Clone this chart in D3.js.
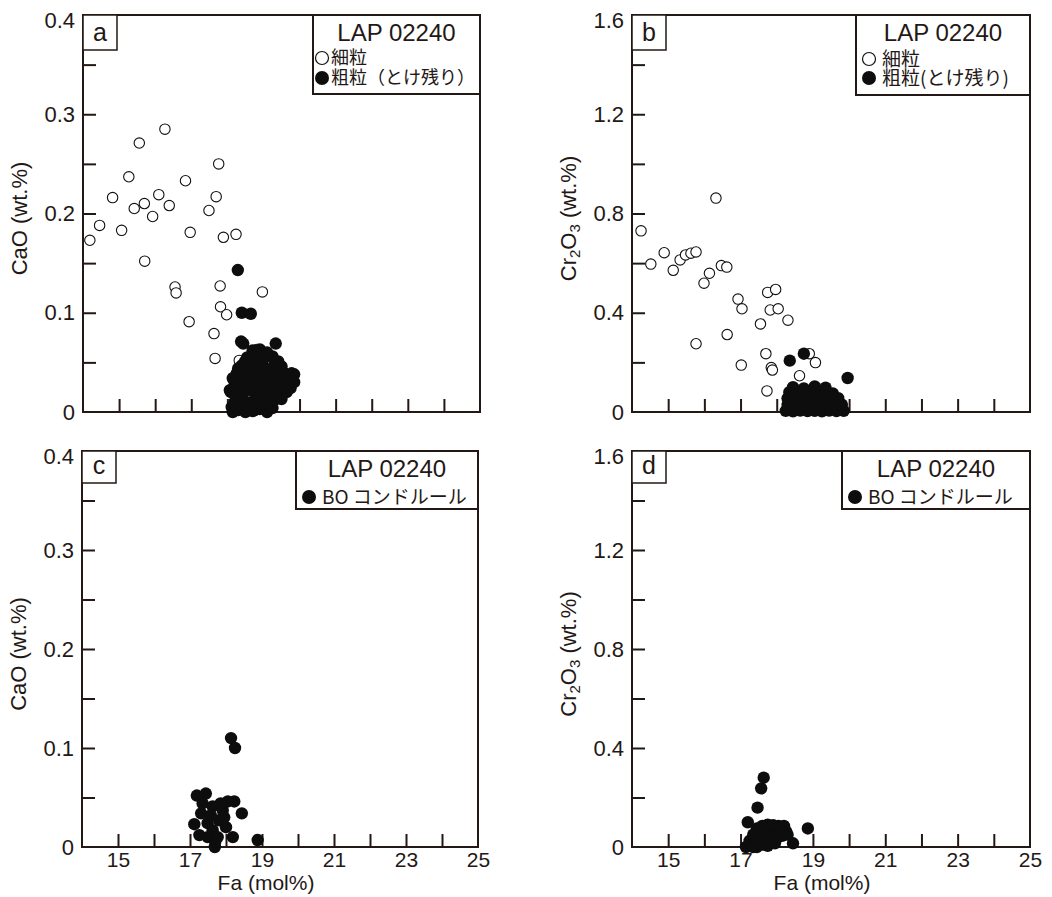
<!DOCTYPE html>
<html><head><meta charset="utf-8">
<script src="https://cdn.jsdelivr.net/npm/d3@7"></script>
<style>
html,body{margin:0;padding:0;background:#fff;}
svg{display:block;font-family:"Liberation Sans",Arial,sans-serif;}
.jp{font-family:"Noto Sans CJK JP","Liberation Sans",sans-serif;}
</style></head>
<body>
<svg id="chart" width="1052" height="897"></svg>
<script>
// ---------- data ----------
const faDomain = [14, 25];
const faTicks = [15, 16, 17, 18, 19, 20, 21, 22, 23, 24];
const faLabels = [15, 17, 19, 21, 23, 25];
const caoDomain = [0, 0.4];
const caoTicks = [0.05, 0.1, 0.15, 0.2, 0.25, 0.3, 0.35];
const caoLabels = [0, 0.1, 0.2, 0.3, 0.4];
const crDomain = [0, 1.6];
const crTicks = [0.2, 0.4, 0.6, 0.8, 1.0, 1.2, 1.4];
const crLabels = [0, 0.4, 0.8, 1.2, 1.6];

// panel a: fine-grained (open) Fa vs CaO
const fineCaO = [[16.27,0.285],[15.56,0.271],[17.76,0.250],[15.27,0.237],[16.84,0.233],[14.82,0.216],[16.10,0.219],[17.69,0.217],[15.70,0.210],[15.42,0.205],[16.39,0.208],[17.49,0.203],[15.93,0.197],[14.46,0.188],[15.07,0.183],[14.19,0.173],[16.97,0.181],[17.89,0.176],[18.24,0.179],[15.71,0.152],[16.55,0.126],[16.58,0.120],[17.80,0.127],[18.97,0.121],[17.81,0.106],[17.98,0.098],[16.94,0.091],[17.63,0.079],[18.83,0.063],[17.66,0.054],[18.33,0.052]];
// panel a: coarse relict (filled) Fa vs CaO
const coarseCaO = [[18.29,0.143],[18.40,0.100],[18.65,0.099],[18.38,0.071],[19.34,0.069],[18.44,0.069],[18.95,0.057],[18.49,0.051],[19.41,0.051],[19.78,0.039],[18.26,0.039],[18.07,0.022],[19.64,0.020],[18.12,0.005],[18.76,0.002],
[18.15,0.000],[18.30,0.002],[18.50,0.000],[18.70,0.001],[18.90,0.003],[19.10,0.000],[18.25,0.006],[18.55,0.005],[18.95,0.006],[19.25,0.004],
[18.20,0.010],[18.45,0.012],[18.65,0.010],[18.85,0.012],[19.05,0.010],[19.30,0.012],[19.50,0.013],
[18.10,0.020],[18.35,0.018],[18.55,0.022],[18.75,0.020],[18.95,0.018],[19.15,0.020],[19.35,0.022],[19.75,0.024],
[18.20,0.027],[18.40,0.026],[18.60,0.027],[18.80,0.026],[19.00,0.027],[19.20,0.026],[19.40,0.027],[19.60,0.028],[19.85,0.030],
[18.15,0.034],[18.35,0.033],[18.55,0.034],[18.75,0.034],[18.95,0.033],[19.15,0.034],[19.35,0.033],[19.55,0.034],[19.70,0.031],
[18.30,0.044],[18.55,0.042],[18.75,0.044],[18.95,0.040],[19.15,0.042],[19.35,0.040],[19.55,0.040],[19.85,0.038],
[18.40,0.047],[18.60,0.047],[18.80,0.048],[19.00,0.046],[19.30,0.047],[19.50,0.046],
[18.55,0.055],[18.75,0.054],[19.05,0.055],[19.25,0.056],[18.70,0.062],[18.90,0.063],[19.10,0.060]];
// panel b: fine-grained (open) Fa vs Cr2O3
const fineCr = [[14.25,0.730],[16.32,0.862],[14.52,0.596],[14.89,0.642],[15.14,0.571],[15.33,0.613],[15.48,0.633],[15.63,0.640],[15.77,0.645],[16.14,0.559],[15.99,0.519],[16.47,0.590],[16.62,0.584],[15.77,0.275],[16.63,0.312],[16.93,0.455],[17.04,0.416],[17.02,0.189],[17.55,0.355],[17.75,0.482],[17.97,0.494],[17.82,0.411],[18.04,0.416],[18.31,0.370],[17.70,0.235],[17.85,0.179],[17.88,0.169],[17.73,0.085],[18.90,0.235],[19.07,0.199],[18.63,0.146]];
// panel b: coarse relict (filled) Fa vs Cr2O3
const coarseCr = [[18.36,0.207],[18.75,0.235],[19.96,0.137],
[18.25,0.005],[18.45,0.003],[18.65,0.006],[18.85,0.004],[19.05,0.005],[19.25,0.003],[19.45,0.006],[19.65,0.004],[19.85,0.005],
[18.30,0.030],[18.55,0.032],[18.80,0.028],[19.00,0.030],[19.20,0.033],[19.40,0.029],[19.60,0.031],[19.80,0.030],
[18.30,0.055],[18.50,0.058],[18.70,0.054],[18.90,0.057],[19.10,0.055],[19.30,0.058],[19.50,0.054],[19.70,0.056],
[18.35,0.080],[18.60,0.085],[18.85,0.082],[19.05,0.086],[19.30,0.080],[19.55,0.075],
[18.45,0.100],[18.75,0.095],[19.05,0.103],[19.35,0.098]];
// panel c: BO chondrule Fa vs CaO
const boCaO = [[18.14,0.110],[18.25,0.100],[18.88,0.007],[18.44,0.034],[17.19,0.052],[17.44,0.054],[18.23,0.046],[17.12,0.023],[17.31,0.034],[18.19,0.010],[17.69,0.000],[17.26,0.012],[17.63,0.041],[17.91,0.037],[17.81,0.027],[17.49,0.024],[17.63,0.017],[17.49,0.010],[18.00,0.020],[17.77,0.010],[18.05,0.046],[17.35,0.044],[17.70,0.005],[17.95,0.030],[17.58,0.032],[17.85,0.044]];
// panel d: BO chondrule Fa vs Cr2O3
const boCr = [[17.64,0.280],[17.57,0.237],[17.47,0.159],[17.20,0.100],[18.86,0.075],[18.45,0.015],
[17.15,0.000],[17.30,0.005],[17.45,0.000],[17.60,0.010],[17.75,0.005],[17.25,0.025],[17.40,0.030],[17.55,0.035],[17.70,0.030],[17.85,0.040],[18.00,0.035],[17.35,0.050],[17.50,0.060],[17.65,0.065],[17.80,0.070],[17.95,0.070],[18.10,0.075],[18.25,0.065],[17.60,0.085],[17.75,0.090],[17.90,0.088],[18.05,0.085],[18.20,0.085],[17.45,0.075],[18.00,0.050],[17.70,0.050],[17.35,0.000],[17.55,0.015],[17.85,0.020],[18.15,0.045],[18.30,0.050],[17.95,0.015]];

// ---------- drawing ----------
const INK = "#231815";
const svg = d3.select("#chart");

function fmtLabel(list){ return d => list.some(v => Math.abs(v - d) < 1e-9) ? (d === 0 ? "0" : String(+d.toFixed(2))) : ""; }

function panel(cfg){
  const x = d3.scaleLinear().domain(faDomain).range([cfg.left, cfg.right]);
  const y = d3.scaleLinear().domain(cfg.yDomain).range([cfg.bottom, cfg.top]);
  const g = svg.append("g");

  // x axis (ticks inward)
  const xTickVals = cfg.xLabels ? faTicks.concat([14, 25]) : faTicks;
  const xa = g.append("g").attr("transform", `translate(0,${cfg.bottom})`)
    .call(d3.axisBottom(x).tickValues(xTickVals).tickSize(-13).tickPadding(5)
      .tickFormat(cfg.xLabels ? fmtLabel(faLabels) : () => ""));
  xa.select(".domain").remove();
  xa.selectAll(".tick line").attr("stroke", INK).attr("stroke-width", 2)
    .attr("display", d => (d === 14 || d === 25) ? "none" : null);
  xa.selectAll(".tick text").attr("font-size", 21).attr("fill", INK);

  // y axis (ticks inward)
  const yTickVals = cfg.yTicks.concat([cfg.yDomain[0], cfg.yDomain[1]]);
  const ya = g.append("g").attr("transform", `translate(${cfg.left},0)`)
    .call(d3.axisLeft(y).tickValues(yTickVals).tickSize(-13).tickPadding(8)
      .tickFormat(fmtLabel(cfg.yLabels)));
  ya.select(".domain").remove();
  ya.selectAll(".tick line").attr("stroke", INK).attr("stroke-width", 2)
    .attr("display", d => (d === cfg.yDomain[0] || d === cfg.yDomain[1]) ? "none" : null);
  ya.selectAll(".tick text").attr("font-size", 22).attr("fill", INK)
    .attr("dy", d => d === cfg.yDomain[1] ? "0.55em" : "0.32em");

  // frame
  g.append("rect").attr("x", cfg.left).attr("y", cfg.top)
    .attr("width", cfg.right - cfg.left).attr("height", cfg.bottom - cfg.top)
    .attr("fill", "none").attr("stroke", INK).attr("stroke-width", 2);

  // points
  if (cfg.open) {
    g.append("g").selectAll("circle").data(cfg.open).join("circle")
      .attr("cx", d => x(d[0])).attr("cy", d => y(d[1])).attr("r", 5.2)
      .attr("fill", "#fff").attr("stroke", "#111").attr("stroke-width", 1.1);
  }
  g.append("g").selectAll("circle").data(cfg.filled).join("circle")
    .attr("cx", d => x(d[0])).attr("cy", d => y(d[1])).attr("r", 6.2)
    .attr("fill", "#0d0d0d");

  // panel letter box
  g.append("rect").attr("x", cfg.left).attr("y", cfg.top).attr("width", 34).attr("height", cfg.letterH)
    .attr("fill", "#fff").attr("stroke", INK).attr("stroke-width", 1.5);
  g.append("text").attr("x", cfg.left + 17).attr("y", cfg.top + cfg.letterH - 9)
    .attr("text-anchor", "middle").attr("font-size", 25).attr("fill", INK).text(cfg.letter);

  // legend box
  const lb = cfg.legend;
  g.append("rect").attr("x", lb.x).attr("y", cfg.top).attr("width", cfg.right - lb.x).attr("height", lb.h)
    .attr("fill", "#fff").attr("stroke", INK).attr("stroke-width", 2);
  g.append("text").attr("x", (lb.x + cfg.right) / 2).attr("y", cfg.top + lb.titleY)
    .attr("text-anchor", "middle").attr("font-size", 24).attr("fill", INK).text("LAP 02240");
  lb.rows.forEach((r, i) => {
    const cy = cfg.top + lb.rowY[i];
    g.append("circle").attr("cx", lb.x + lb.sym).attr("cy", cy).attr("r", r.open ? 6.5 : 7)
      .attr("fill", r.open ? "#fff" : "#0d0d0d").attr("stroke", "#111").attr("stroke-width", r.open ? 1.2 : 0);
    g.append("text").attr("class", "jp").attr("x", lb.x + lb.txt).attr("y", cy).attr("dy", "0.36em")
      .attr("font-size", lb.fs).attr("fill", INK).text(r.label);
  });

  // y title
  const ty = g.append("text").attr("transform", `translate(${cfg.left - 56},${(cfg.top + cfg.bottom) / 2 + 5}) rotate(-90)`)
    .attr("text-anchor", "middle").attr("font-size", 22).attr("fill", INK);
  if (cfg.yTitle === "CaO") {
    ty.text("CaO (wt.%)");
  } else {
    ty.append("tspan").text("Cr");
    ty.append("tspan").attr("font-size", 15).attr("dy", 4).text("2");
    ty.append("tspan").attr("dy", -4).text("O");
    ty.append("tspan").attr("font-size", 15).attr("dy", 4).text("3");
    ty.append("tspan").attr("dy", -4).text(" (wt.%)");
  }
  if (cfg.xLabels) {
    g.append("text").attr("x", cfg.xTitleX).attr("y", cfg.bottom + 43)
      .attr("text-anchor", "middle").attr("font-size", 21).attr("fill", INK).text("Fa (mol%)");
  }
}

panel({left: 83, right: 480, top: 15, bottom: 412, yDomain: caoDomain, yTicks: caoTicks, yLabels: caoLabels,
  open: fineCaO, filled: coarseCaO, letter: "a", letterH: 35, yTitle: "CaO", xLabels: false,
  legend: {x: 313, h: 79, titleY: 26, sym: 9, txt: 18, fs: 18, rowY: [43, 63],
    rows: [{open: true, label: "細粒"}, {open: false, label: "粗粒（とけ残り）"}]}});
panel({left: 632, right: 1030, top: 15, bottom: 412, yDomain: crDomain, yTicks: crTicks, yLabels: crLabels,
  open: fineCr, filled: coarseCr, letter: "b", letterH: 35, yTitle: "Cr", xLabels: false,
  legend: {x: 856, h: 80, titleY: 26, sym: 13, txt: 26, fs: 19, rowY: [44, 63],
    rows: [{open: true, label: "細粒"}, {open: false, label: "粗粒(とけ残り)"}]}});
panel({left: 82, right: 478, top: 451, bottom: 847, yDomain: caoDomain, yTicks: caoTicks, yLabels: caoLabels,
  open: null, filled: boCaO, letter: "c", letterH: 32, yTitle: "CaO", xLabels: true, xTitleX: 266,
  legend: {x: 296, h: 58, titleY: 26, sym: 13, txt: 26, fs: 19, rowY: [46],
    rows: [{open: false, label: "BO コンドルール"}]}});
panel({left: 632, right: 1030, top: 451, bottom: 847, yDomain: crDomain, yTicks: crTicks, yLabels: crLabels,
  open: null, filled: boCr, letter: "d", letterH: 32, yTitle: "Cr", xLabels: true, xTitleX: 822,
  legend: {x: 842, h: 58, titleY: 26, sym: 13, txt: 26, fs: 19, rowY: [46],
    rows: [{open: false, label: "BO コンドルール"}]}});
</script>
</body></html>
